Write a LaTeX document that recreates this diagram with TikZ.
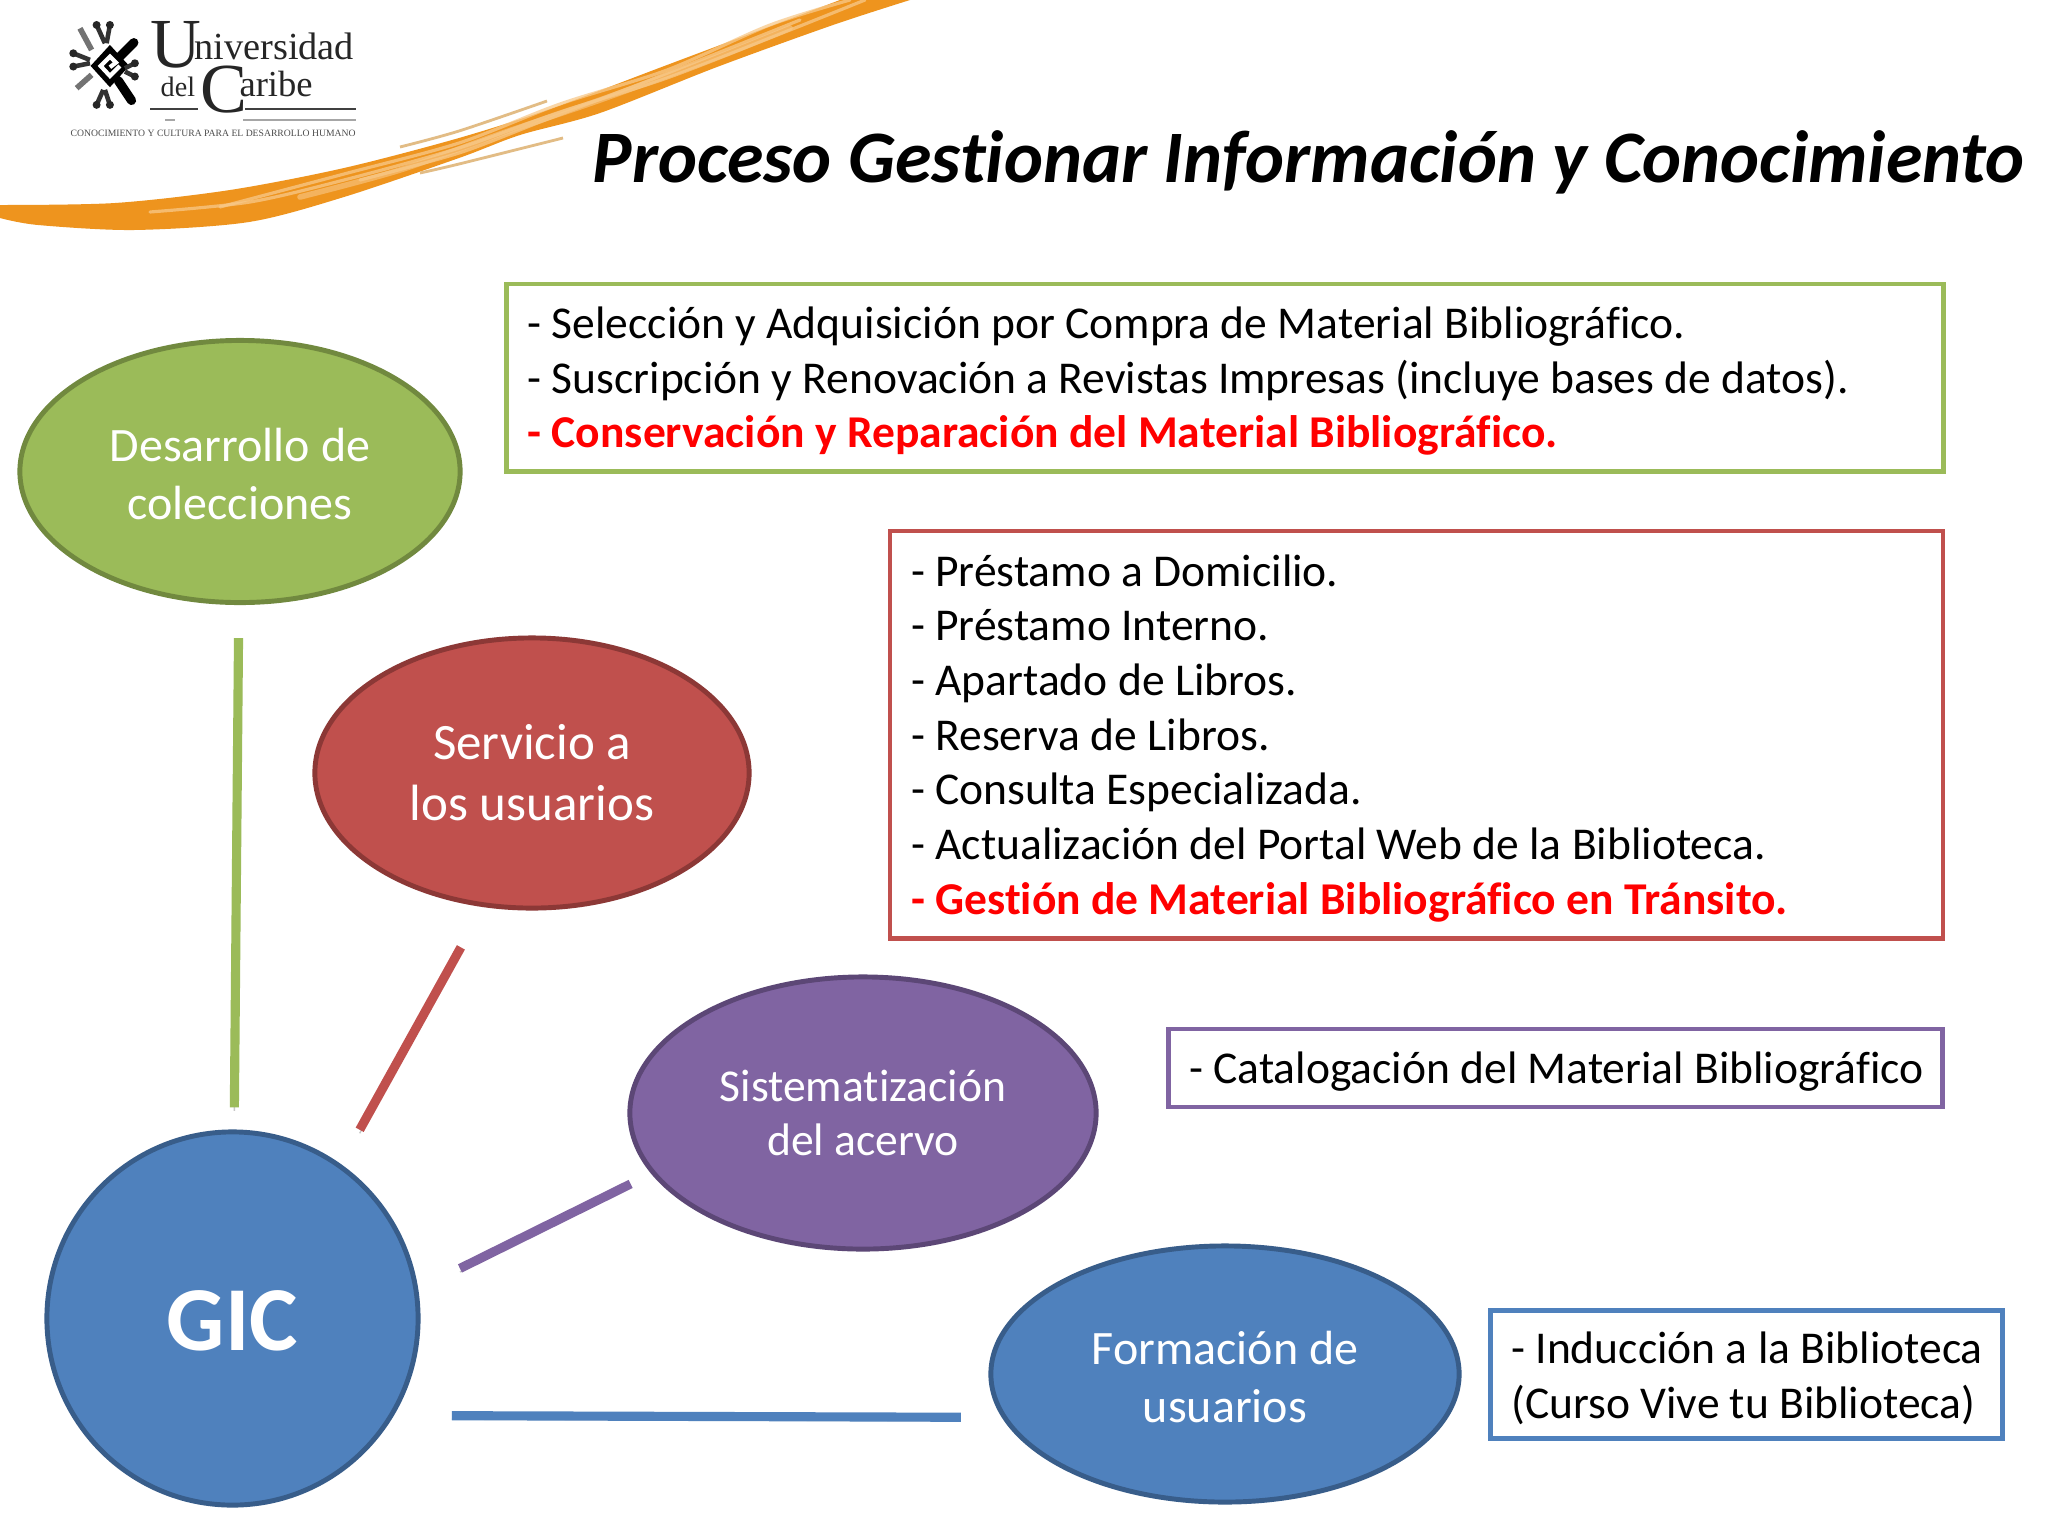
\documentclass[tikz,border=0pt]{standalone}
\usepackage{fontspec}
\setmainfont{Carlito}[Ligatures=NoCommon]
\newfontfamily\logofont{Liberation Serif}
\usetikzlibrary{shapes.geometric}
\definecolor{cgreen}{HTML}{9BBB59}
\definecolor{cgreend}{HTML}{71893F}
\definecolor{cred}{HTML}{C0504D}
\definecolor{credd}{HTML}{8C3836}
\definecolor{cpurple}{HTML}{8064A2}
\definecolor{cpurpled}{HTML}{5C4776}
\definecolor{cblue}{HTML}{4F81BD}
\definecolor{cblued}{HTML}{385D8A}
\definecolor{corange}{HTML}{EE941E}
\definecolor{clight}{HTML}{F8C98A}
\definecolor{ctan}{HTML}{E2BC85}
\newcommand{\firstline}{\rule{0pt}{11pt}}
\begin{document}
\begin{tikzpicture}
		[x=.01cm,y=-.01cm,
		oval/.style={ellipse,draw,line width=1.4pt,inner sep=0pt,text=white,align=flush center},
		ovaltext/.style={font=\fontsize{13.65}{16.4}\selectfont},
		infobox/.style={rectangle,draw,line width=1.3pt,inner xsep=.21cm,inner ysep=0pt,align=flush left,
			font=\fontsize{12.95}{15.54}\selectfont},
		bar/.style={line width=2.6pt,preaction={draw=black!22,transform canvas={yshift=-.035cm}}},
		logotext/.style={inner sep=0pt,anchor=base west,text=black!85},
		streak/.style={line width=.9pt,clight,line cap=round,opacity=.75}]
		\useasboundingbox (0,0) rectangle (2048,1536);
		\fill[white] (0,0) rectangle (2048,1536);

		\fill[corange] plot[smooth] coordinates {(0,205) (115,203) (230,190) (344,168) (459,138) (550,109) (667,65) (840,0)}
			-- plot[smooth] coordinates {(910,0) (833,25) (717,67) (600,113) (520,135) (459,158) (344,197) (249,222) (134,230) (38,225) (0,218)} -- cycle;
		\draw[ctan,line width=.8pt] plot[smooth] coordinates {(400,147) (459,131) (547,101)};
		\draw[ctan,line width=.8pt] plot[smooth] coordinates {(420,173) (459,164) (563,138)};
		\draw[streak] plot[smooth] coordinates {(150,212) (250,202) (344,180) (459,148) (560,112) (667,78) (790,30) (865,0)};
		\draw[streak] plot[smooth] coordinates {(220,207) (344,174) (459,143) (560,104) (667,70) (770,25) (850,0)};
		\draw[streak,line width=1.6pt,opacity=.6] plot[smooth] coordinates {(300,197) (400,170) (500,134) (600,100) (720,56) (790,28)};
		\draw[streak] plot[smooth] coordinates {(360,180) (459,153) (540,122) (650,80) (800,20)};

		\begin{scope}[shift={(60,10)},x=.00333cm,y=-.00333cm]
			\draw[black,line width=2.6pt,line cap=round] (222,98) -- (180,140) (175,212) -- (215,272);
			\fill[black] (150,105) -- (208,168) -- (150,232) -- (92,168) -- cycle;
			\draw[white,line width=1.2pt] (180,168) -- (150,198) -- (122,168) -- (150,140) -- (168,158) -- (150,172);
			\draw[black!55,line width=1.6pt] (60,55) -- (95,120) (50,235) -- (95,195);
			\draw[black!80,line width=1.3pt] (40,130) -- (90,150) (40,170) -- (90,160) (225,160) -- (195,175) (225,200) -- (195,185) (110,285) -- (130,240) (150,285) -- (135,240) (110,45) -- (135,100) (150,45) -- (140,100);
			\foreach \kx/\ky in {40/130,40/170,225/160,225/200,110/285,150/285,110/45,150/45}
				\fill[black!85] (\kx,\ky) circle (12);
		\end{scope}
		\node[logotext,font=\logofont\fontsize{20}{20}\selectfont] (l1) at (150,67) {U\kern-2pt\fontsize{10.9}{12}\selectfont\raisebox{2pt}{niversidad}};
		\node[logotext,font=\logofont\fontsize{8}{9}\selectfont] (l2) at (160,112) {\raisebox{4.27pt}{del}\kern1.6pt\fontsize{20}{20}\selectfont C\kern-2.3pt\fontsize{10.4}{12}\selectfont\raisebox{4.27pt}{aribe}};
		\node[logotext,font=\logofont\fontsize{2.75}{3}\selectfont,text=black!70] (l3) at (70,136) {CONOCIMIENTO Y CULTURA PARA EL DESARROLLO HUMANO};
		\draw[black!75,line width=.6pt] (150,109) -- (198,109) (245,109) -- (356,109);
		\draw[black!35,line width=.5pt] (165,120) -- (175,120) (243,120) -- (356,120);

		\node[inner sep=0pt,anchor=base west,font=\fontsize{21.05}{24}\selectfont\bfseries\itshape] (t1) at (592,182) {Proceso Gestionar Información y Conocimiento};

		\node[oval,ovaltext,fill=cgreen,draw=cgreend,minimum width=4.4cm,minimum height=2.62cm] (n1) at (240,471.5) {\firstline Desarrollo de\\colecciones};
		\node[oval,ovaltext,fill=cred,draw=credd,minimum width=4.34cm,minimum height=2.7cm,font=\fontsize{14.5}{17.3}\selectfont] (n2) at (532,773) {Servicio a\\los usuarios};
		\node[oval,ovaltext,fill=cpurple,draw=cpurpled,minimum width=4.66cm,minimum height=2.72cm,font=\fontsize{12.97}{15.6}\selectfont] (n3) at (863,1113) {Sistematización\\del acervo};
		\node[oval,ovaltext,fill=cblue,draw=cblued,minimum width=4.68cm,minimum height=2.56cm] (n4) at (1225,1374) {\firstline Formación de\\usuarios};
		\node[oval,fill=cblue,draw=cblued,minimum width=3.71cm,minimum height=3.73cm,font=\fontsize{26}{30}\selectfont\bfseries] (n5) at (232.5,1318.5) {\rule{0pt}{18.5pt}GIC};

		\node[infobox,draw=cgreen,text width=13.94cm,minimum height=1.87cm] (b1) at (1225,377.7) {\firstline- Selección y Adquisición por Compra de Material Bibliográfico.\\- Suscripción y Renovación a Revistas Impresas (incluye bases de datos).\\\textcolor{red}{\textbf{- Conservación y Reparación del Material Bibliográfico.}}};
		\node[infobox,draw=cred,text width=10.1cm,minimum height=4.07cm] (b2) at (1416.5,734.7) {\firstline- Préstamo a Domicilio.\\- Préstamo Interno.\\- Apartado de Libros.\\- Reserva de Libros.\\- Consulta Especializada.\\- Actualización del Portal Web de la Biblioteca.\\\textcolor{red}{\textbf{- Gestión de Material Bibliográfico en Tránsito.}}};
		\node[infobox,draw=cpurple,text width=7.32cm,minimum height=.78cm] (b3) at (1555.5,1068) {\mbox{\firstline- Catalogación del Material Bibliográfico}};
		\node[infobox,draw=cblue,text width=4.7cm,minimum height=1.28cm] (b4) at (1746.5,1374.7) {\mbox{\firstline- Inducción a la Biblioteca}\\\mbox{(Curso Vive tu Biblioteca)}};

		\draw[bar,cgreen,shorten <=.33cm,shorten >=.22cm] (n1) -- (n5);
		\draw[bar,cred,shorten <=.46cm,shorten >=.39cm] (n2.250) -- (n5.55.5);
		\draw[bar,cpurple,shorten <=.23cm,shorten >=.465cm] (n3.196.8) -- (n5.9);
		\draw[bar,cblue,shorten <=.41cm,shorten >=.58cm] (n4.191) -- (n5.-31.4);

	\end{tikzpicture}
\end{document}
